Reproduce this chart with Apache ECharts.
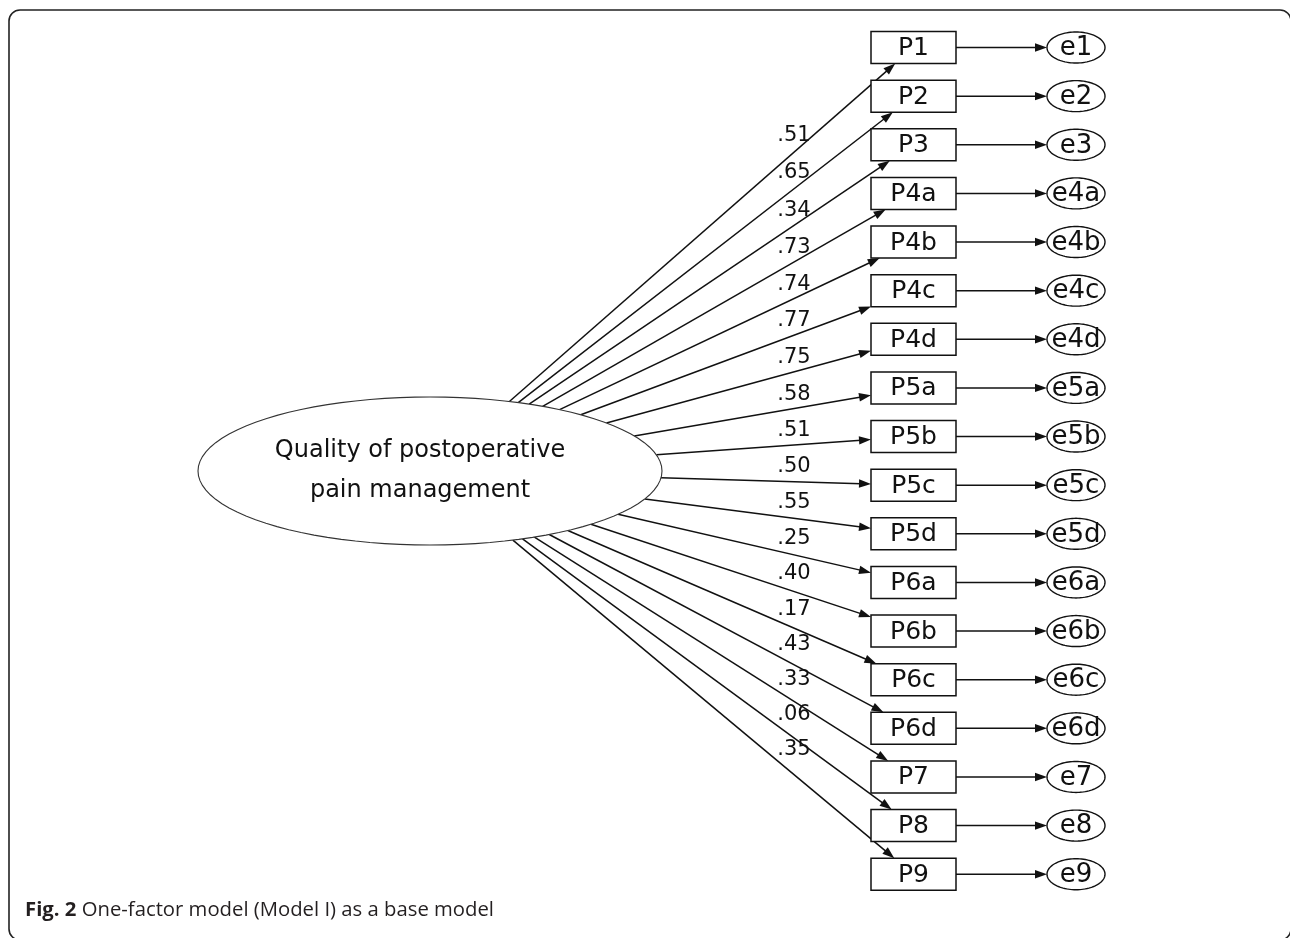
<!DOCTYPE html>
<html>
<head>
<meta charset="utf-8">
<style>
html, body { margin: 0; padding: 0; background: #fff; }
#main { width: 1290px; height: 938px; }
</style>
<script src="https://cdn.jsdelivr.net/npm/echarts@6/dist/echarts.min.js"></script>
</head>
<body>
<div id="main"></div>
<script>
// data
var factorLines = ['Quality of postoperative', 'pain management'];
var indicators = ['P1', 'P2', 'P3', 'P4a', 'P4b', 'P4c', 'P4d', 'P5a', 'P5b', 'P5c', 'P5d',
	'P6a', 'P6b', 'P6c', 'P6d', 'P7', 'P8', 'P9'];
var errors = ['e1', 'e2', 'e3', 'e4a', 'e4b', 'e4c', 'e4d', 'e5a', 'e5b', 'e5c', 'e5d',
	'e6a', 'e6b', 'e6c', 'e6d', 'e7', 'e8', 'e9'];
var loadings = [0.51, 0.65, 0.34, 0.73, 0.74, 0.77, 0.75, 0.58, 0.51, 0.50, 0.55,
	0.25, 0.40, 0.17, 0.43, 0.33, 0.06, 0.35];
var caption = ['Fig. 2', 'One-factor model (Model I) as a base model'];

// layout (pixels)
var latent = { cx: 430, cy: 471, rx: 232, ry: 74 };
var box = { x: 871, w: 85, h: 32 };
var err = { cx: 1076, rx: 29, ry: 15.5 };
var rowTop = 47.5, rowStep = 48.63;
var labelX = 794;
var ink = '#111';
var font = 'DejaVu Sans';

var rowY = function(i) {
	return rowTop + i * rowStep;
};
var fmt = function(v) {
	return v.toFixed(2).replace(/^0/, '');
};

// start of a path: leaves the latent ellipse heading to (tx, ty)
var ellipseExit = function(e, tx, ty) {
	var dx = tx - e.cx, dy = ty - e.cy;
	var t = 1 / Math.sqrt(Math.pow(dx / e.rx, 2) + Math.pow(dy / e.ry, 2));
	return [e.cx + dx * t, e.cy + dy * t];
};
// end of a path: where the line from (sx, sy) enters the box centred at (bx, by)
var boxEntry = function(sx, sy, bx, by) {
	var dx = bx - sx, dy = by - sy;
	var s = Math.min(dx !== 0 ? (box.w / 2) / Math.abs(dx) : Infinity,
		dy !== 0 ? (box.h / 2) / Math.abs(dy) : Infinity);
	return [bx - dx * s, by - dy * s];
};

var loadArrows = [], loadLabels = [], resArrows = [];
indicators.forEach(function(name, i) {
	var bx = box.x + box.w / 2, by = rowY(i);
	var a = ellipseExit(latent, bx, by);
	var b = boxEntry(latent.cx, latent.cy, bx, by);
	loadArrows.push([a[0], a[1], b[0], b[1]]);
	var slope = (by - latent.cy) / (bx - latent.cx);
	var ly = latent.cy + slope * (labelX - latent.cx) - (15 + 5 * slope + 8 * slope * slope);
	loadLabels.push([labelX, ly, i]);
	resArrows.push([box.x + box.w, by, err.cx - err.rx, by]);
});

var ellipsePoints = function(cx, cy, rx, ry) {
	var pts = [];
	for (var k = 0; k < 96; k++) {
		var a = k / 96 * Math.PI * 2;
		pts.push([cx + rx * Math.cos(a), cy + ry * Math.sin(a)]);
	}
	return pts;
};

var renderArrow = function(params, api) {
	var p1 = api.coord([api.value(0), api.value(1)]);
	var p2 = api.coord([api.value(2), api.value(3)]);
	var dx = p2[0] - p1[0], dy = p2[1] - p1[1];
	var len = Math.sqrt(dx * dx + dy * dy);
	var ux = dx / len, uy = dy / len;
	var L = 12, hw = 4.2;
	var bx = p2[0] - ux * L, by = p2[1] - uy * L;
	return {
		type: 'group',
		children: [{
			type: 'line',
			shape: { x1: p1[0], y1: p1[1], x2: bx + ux * 2, y2: by + uy * 2 },
			style: { stroke: ink, lineWidth: 1.5 }
		}, {
			type: 'polygon',
			shape: { points: [p2, [bx - uy * hw, by + ux * hw], [bx + uy * hw, by - ux * hw]] },
			style: { fill: ink }
		}]
	};
};

var option = {
	animation: false,
	title: {
		text: '{b|' + caption[0] + '} ' + caption[1],
		left: 20,
		top: 895,
		textStyle: {
			fontFamily: 'Open Sans',
			fontSize: 20.3,
			fontWeight: 'normal',
			color: '#231f20',
			rich: {
				b: { fontFamily: 'Open Sans', fontSize: 20.3, fontWeight: 'bold', color: '#231f20' }
			}
		}
	},
	graphic: [{
		type: 'rect',
		shape: { x: 9, y: 10, width: 1282, height: 930, r: 11 },
		style: { fill: 'none', stroke: '#222', lineWidth: 1.6 },
		z: 0
	}],
	grid: { left: 0, right: 0, top: 0, bottom: 0 },
	xAxis: { type: 'value', min: 0, max: 1290, show: false },
	yAxis: { type: 'value', min: 0, max: 938, inverse: true, show: false },
	series: [{
		// loading paths
		type: 'custom',
		renderItem: renderArrow,
		data: loadArrows,
		z: 2
	}, {
		// residual paths
		type: 'custom',
		renderItem: renderArrow,
		data: resArrows,
		z: 2
	}, {
		// latent factor
		type: 'custom',
		data: [[latent.cx, latent.cy]],
		z: 3,
		renderItem: function(params, api) {
			var c = api.coord([api.value(0), api.value(1)]);
			var s = api.size([latent.rx, latent.ry]);
			return {
				type: 'group',
				children: [{
					type: 'polygon',
					shape: { points: ellipsePoints(c[0], c[1], s[0], s[1]) },
					style: { fill: '#fff', stroke: '#333', lineWidth: 1.1 }
				}, {
					type: 'text',
					style: { text: factorLines[0], x: c[0] - 10, y: c[1] - 20, align: 'center', verticalAlign: 'middle',
						font: '24px "' + font + '"', fill: ink }
				}, {
					type: 'text',
					style: { text: factorLines[1], x: c[0] - 10, y: c[1] + 20, align: 'center', verticalAlign: 'middle',
						font: '24px "' + font + '"', fill: ink }
				}]
			};
		}
	}, {
		// observed indicators
		type: 'custom',
		data: indicators.map(function(n, i) { return [box.x, rowY(i), i]; }),
		z: 3,
		renderItem: function(params, api) {
			var p = api.coord([api.value(0), api.value(1)]);
			var s = api.size([box.w, box.h]);
			return {
				type: 'group',
				children: [{
					type: 'rect',
					shape: { x: p[0], y: p[1] - s[1] / 2, width: s[0], height: s[1] },
					style: { fill: '#fff', stroke: ink, lineWidth: 1.5 }
				}, {
					type: 'text',
					style: { text: indicators[api.value(2)], x: p[0] + s[0] / 2, y: p[1] + 1, align: 'center',
						verticalAlign: 'middle', font: '25px "' + font + '"', fill: ink }
				}]
			};
		}
	}, {
		// error terms
		type: 'custom',
		data: errors.map(function(n, i) { return [err.cx, rowY(i), i]; }),
		z: 3,
		renderItem: function(params, api) {
			var c = api.coord([api.value(0), api.value(1)]);
			var s = api.size([err.rx, err.ry]);
			return {
				type: 'group',
				children: [{
					type: 'polygon',
					shape: { points: ellipsePoints(c[0], c[1], s[0], s[1]) },
					style: { fill: '#fff', stroke: ink, lineWidth: 1.4 }
				}, {
					type: 'text',
					style: { text: errors[api.value(2)], x: c[0], y: c[1] + 1, align: 'center',
						verticalAlign: 'middle', font: '26px "' + font + '"', fill: ink }
				}]
			};
		}
	}, {
		// loading values
		type: 'custom',
		data: loadLabels,
		z: 4,
		renderItem: function(params, api) {
			var p = api.coord([api.value(0), api.value(1)]);
			return {
				type: 'text',
				style: { text: fmt(loadings[api.value(2)]), x: p[0], y: p[1], align: 'center',
					verticalAlign: 'middle', font: '21px "' + font + '"', fill: ink }
			};
		}
	}]
};

var myChart = echarts.init(document.getElementById('main'));
myChart.setOption(option);
</script>
</body>
</html>
